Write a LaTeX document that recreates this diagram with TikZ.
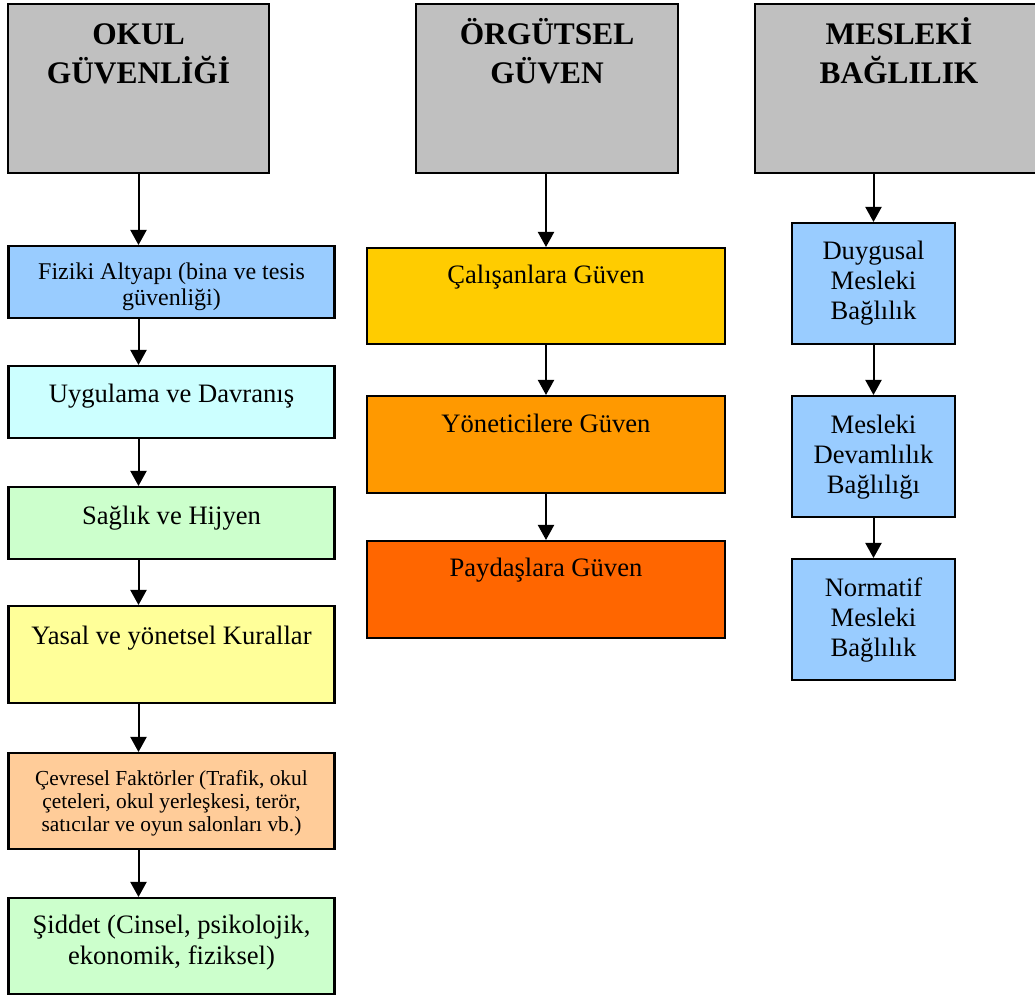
\documentclass[tikz,border=0pt]{standalone}
\usepackage{fontspec}
\setmainfont{Liberation Serif}
\usetikzlibrary{arrows.meta}
\definecolor{headgray}{HTML}{C0C0C0}
\definecolor{skyblue}{HTML}{99CCFF}
\definecolor{paleblue}{HTML}{CCFFFF}
\definecolor{palegreen}{HTML}{CCFFCC}
\definecolor{paleyellow}{HTML}{FFFF99}
\definecolor{peach}{HTML}{FFCC99}
\definecolor{gold}{HTML}{FFCC00}
\definecolor{amber}{HTML}{FF9900}
\definecolor{darkorange}{HTML}{FF6600}
\tikzset
{
    box/.style  = {draw=black, line width=1.2pt, inner sep=0pt, align=center, anchor=north, font=\fontsize{13.3}{15.5}\selectfont},
    lbox/.style = {box, minimum width=163pt},
    mbox/.style = {box, minimum width=179pt},
    rbox/.style = {box, minimum width=81.5pt, fill=skyblue, font=\fontsize{13.3}{15}\selectfont, text depth=12pt},
    head/.style = {box, fill=headgray, font=\bfseries\fontsize{15.7}{19.5}\selectfont, text height=39.5pt, text depth=45pt},
    flow/.style = {-{Triangle[width=8pt,length=7.5pt]}, line width=1pt}
}

\begin{document}
\begin{tikzpicture}[x=0.5pt, y=-0.5pt]
\useasboundingbox (0,0) rectangle (1035,999);
\newcommand\XL{171.5}
\newcommand\XM{546}
\newcommand\XR{873.5}

% headings
\node (okul)  [head, minimum width=130.5pt] at (138.5,3) {OKUL\\GÜVENLİĞİ};
\node (orgut) [head, minimum width=131pt]   at (547,3)   {ÖRGÜTSEL\\GÜVEN};
\node (mesl)  [head, minimum width=144pt]   at (899,3)   {MESLEKİ\\BAĞLILIK};

% okul guvenligi
\node (fiz) [lbox, fill=skyblue, font=\fontsize{12}{13}\selectfont, text height=29.5pt, text depth=6.5pt] at (\XL,245) {Fiziki Altyapı (bina ve tesis\\güvenliği)};
\node (uyg) [lbox, fill=paleblue, text height=18pt, text depth=18pt]     at (\XL,365) {Uygulama ve Davranış};
\node (sag) [lbox, fill=palegreen, text height=18.5pt, text depth=17.5pt] at (\XL,486) {Sağlık ve Hijyen};
\node (yas) [lbox, fill=paleyellow, text height=19pt, text depth=29.5pt] at (\XL,605) {Yasal ve yönetsel Kurallar};
\node (cev) [lbox, fill=peach, font=\fontsize{10.7}{11.3}\selectfont, text height=39pt, text depth=9pt] at (\XL,752) {Çevresel Faktörler (Trafik, okul\\çeteleri, okul yerleşkesi, terör,\\satıcılar ve oyun salonları vb.)};
\node (sid) [lbox, fill=palegreen, text height=33pt, text depth=15pt] at (\XL,897) {Şiddet (Cinsel, psikolojik,\\ekonomik, fiziksel)};

% orgutsel guven
\node (cal) [mbox, fill=gold, text height=17.5pt, text depth=30.5pt]       at (\XM,247) {Çalışanlara Güven};
\node (yon) [mbox, fill=amber, text height=18pt, text depth=30.5pt]        at (\XM,395) {Yöneticilere Güven};
\node (pay) [mbox, fill=darkorange, text height=17.5pt, text depth=31pt]   at (\XM,540) {Paydaşlara Güven};

% mesleki baglilik
\node (duy) [rbox, text height=48pt, text depth=12.5pt] at (\XR,222) {Duygusal\\Mesleki\\Bağlılık};
\node (dev) [rbox, text height=48.5pt] at (\XR,395) {Mesleki\\Devamlılık\\Bağlılığı};
\node (nor) [rbox, text height=48.5pt] at (\XR,558) {Normatif\\Mesleki\\Bağlılık};

\path
(okul.south)        edge[flow] (okul.south |- fiz.north)
(okul.south |- fiz.south) edge[flow] (okul.south |- uyg.north)
(okul.south |- uyg.south) edge[flow] (okul.south |- sag.north)
(okul.south |- sag.south) edge[flow] (okul.south |- yas.north)
(okul.south |- yas.south) edge[flow] (okul.south |- cev.north)
(okul.south |- cev.south) edge[flow] (okul.south |- sid.north);

\path
(cal.north |- orgut.south) edge[flow] (cal.north)
(cal.south) edge[flow] (yon.north)
(yon.south) edge[flow] (pay.north);

\path
(duy.north |- mesl.south) edge[flow] (duy.north)
(duy.south) edge[flow] (dev.north)
(dev.south) edge[flow] (nor.north);
\end{tikzpicture}
\end{document}
